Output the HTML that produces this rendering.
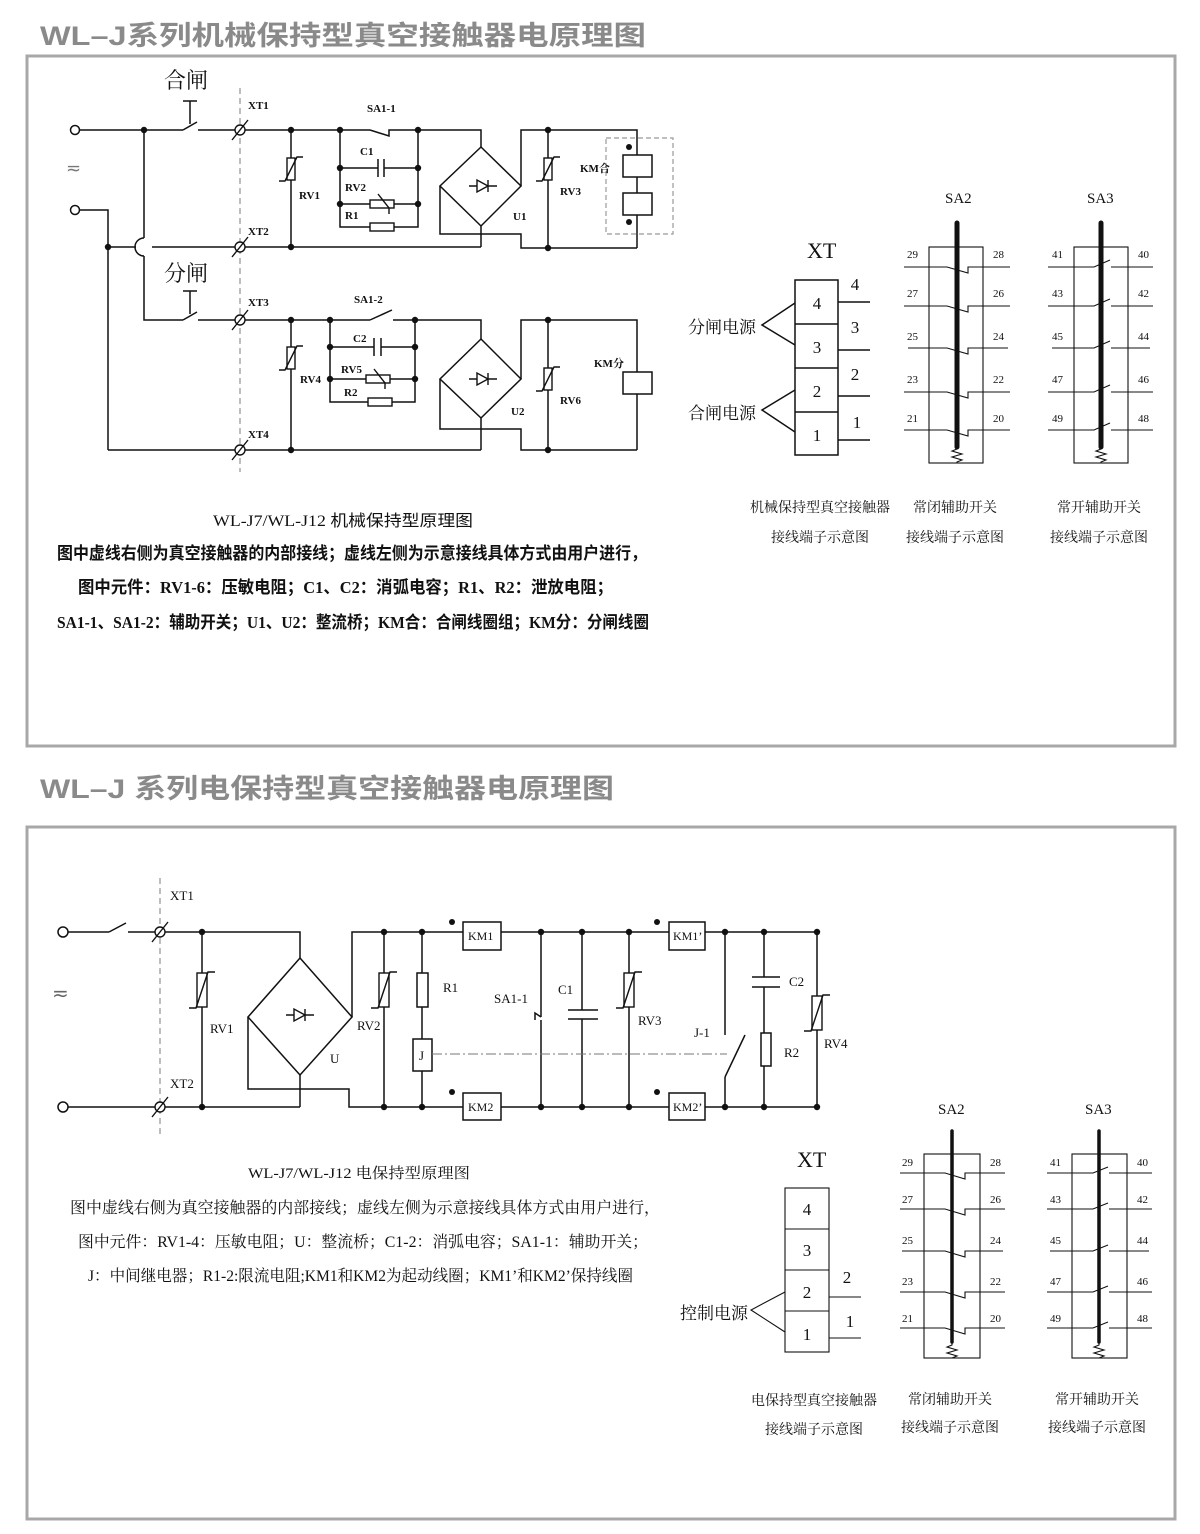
<!DOCTYPE html>
<html><head><meta charset="utf-8"><style>
html,body{margin:0;padding:0;background:#fff}
svg{display:block}
text{font-family:"Liberation Serif","Noto Serif CJK SC","Noto Sans CJK SC",serif;fill:#111}
.t{font-family:"Liberation Sans","Noto Sans CJK SC",sans-serif;font-weight:bold;fill:#8a8a8a;font-size:27px}
.s{font-size:11px;font-weight:bold}
.m{font-size:13px}
.b{font-size:17px;font-family:"Liberation Serif","Noto Sans CJK SC",serif}
.w{stroke:#111;stroke-width:1.5;fill:none}
.wt{stroke:#111;stroke-width:1.1;fill:none}
</style></head><body>
<svg width="1200" height="1534" viewBox="0 0 1200 1534" xmlns="http://www.w3.org/2000/svg">
<defs>
<g id="dot"><circle r="3.2" fill="#111"/></g>
<g id="xtc"><circle r="5" fill="#fff" stroke="#111" stroke-width="1.4"/><line x1="-8" y1="10" x2="8" y2="-10" stroke="#111" stroke-width="1.4"/></g>
<g id="rvv"><rect x="-4" y="-11" width="8" height="22" fill="#fff" stroke="#111" stroke-width="1.4"/><polyline points="-12,12 -6,12 6,-12 12,-12" fill="none" stroke="#111" stroke-width="1.4"/></g>
<g id="rvv2"><rect x="-5" y="-17" width="10" height="34" fill="#fff" stroke="#111" stroke-width="1.4"/><polyline points="-13,18 -6,18 6,-18 13,-18" fill="none" stroke="#111" stroke-width="1.4"/></g>
<g id="rvh"><rect x="-12" y="-4" width="24" height="8" fill="#fff" stroke="#111" stroke-width="1.4"/><polyline points="-4,-10 7,4 7,10" fill="none" stroke="#111" stroke-width="1.4"/></g>
<g id="rh"><rect x="-12" y="-4" width="24" height="8" fill="#fff" stroke="#111" stroke-width="1.4"/></g>
<g id="diode"><line x1="-14" y1="0" x2="14" y2="0" stroke="#111" stroke-width="1.4"/><polygon points="-6,-6 -6,6 5,0" fill="#fff" stroke="#111" stroke-width="1.4"/><line x1="5" y1="-6" x2="5" y2="6" stroke="#111" stroke-width="1.4"/></g>
</defs>

<!-- titles and frames -->
<text class="t" x="40" y="45" textLength="606" lengthAdjust="spacingAndGlyphs">WL–J系列机械保持型真空接触器电原理图</text>
<rect x="27" y="56" width="1148" height="690" fill="none" stroke="#a8a8a8" stroke-width="3"/>
<text class="t" x="40" y="798" textLength="574" lengthAdjust="spacingAndGlyphs">WL–J 系列电保持型真空接触器电原理图</text>
<rect x="27" y="827" width="1148" height="692" fill="none" stroke="#a8a8a8" stroke-width="3"/>

<!-- ============ TOP CIRCUIT ============ -->
<g class="w">
<circle cx="75" cy="130" r="4.5" fill="#fff"/>
<circle cx="75" cy="210" r="4.5" fill="#fff"/>
<line x1="80" y1="130" x2="183" y2="130"/>
<line x1="183" y1="130" x2="197" y2="122"/>
<line x1="198" y1="130" x2="370" y2="130"/>
<line x1="190" y1="101" x2="190" y2="124"/><line x1="183" y1="101" x2="197" y2="101"/>
<!-- SA1-1 -->
<polyline points="370,130 389,136 389,130 481,130 481,147"/>
<!-- bridge U1 -->
<polygon points="481,147 521,186 481,226 440,186"/>
<polyline points="440,186 440,234 521,234 521,248 637,248"/>
<polyline points="521,186 521,130 637,130 637,248"/>
<line x1="548" y1="130" x2="548" y2="248"/>
<polyline points="80,210 108,210 108,450"/>
<line x1="108" y1="247" x2="136" y2="247"/>
<line x1="152" y1="247" x2="481" y2="247"/>
<line x1="481" y1="226" x2="481" y2="247"/>
<!-- left vertical with jump -->
<line x1="144" y1="130" x2="144" y2="238"/>
<path d="M144,238 A9,9 0 0 0 144,256"/>
<polyline points="144,256 144,320 183,320"/>
<line x1="183" y1="320" x2="197" y2="312"/>
<line x1="190" y1="291" x2="190" y2="314"/><line x1="183" y1="291" x2="197" y2="291"/>
<line x1="198" y1="320" x2="370" y2="320"/>
<!-- SA1-2 -->
<line x1="370" y1="320" x2="392" y2="310"/>
<polyline points="393,320 481,320 481,339"/>
<polygon points="481,339 521,379 481,418 440,379"/>
<polyline points="440,379 440,429 521,429 521,450 637,450"/>
<polyline points="521,379 521,320 637,320 637,450"/>
<line x1="548" y1="320" x2="548" y2="450"/>
<line x1="108" y1="450" x2="481" y2="450"/>
<line x1="481" y1="418" x2="481" y2="450"/>
<!-- verticals RV1 / RV4 -->
<line x1="291" y1="130" x2="291" y2="247"/>
<line x1="291" y1="320" x2="291" y2="450"/>
<!-- C1/RV2/R1 ladder -->
<polyline points="340,130 340,227 418,227 418,130"/>
<line x1="340" y1="168" x2="378" y2="168"/><line x1="384" y1="168" x2="418" y2="168"/>
<line x1="378" y1="159" x2="378" y2="177"/><line x1="384" y1="159" x2="384" y2="177"/>
<line x1="340" y1="204" x2="418" y2="204"/>
<!-- C2/RV5/R2 ladder -->
<polyline points="330,320 330,402 415,402 415,320"/>
<line x1="330" y1="347" x2="374" y2="347"/><line x1="381" y1="347" x2="415" y2="347"/>
<line x1="374" y1="338" x2="374" y2="356"/><line x1="381" y1="338" x2="381" y2="356"/>
<line x1="330" y1="379" x2="415" y2="379"/>
<!-- KM合 -->
<rect x="606" y="138" width="67" height="96" stroke="#999" stroke-dasharray="5,3" stroke-width="1.2"/>
<rect x="623" y="155" width="29" height="22" fill="#fff"/>
<rect x="623" y="193" width="29" height="22" fill="#fff"/>
<rect x="623" y="372" width="29" height="22" fill="#fff"/>
</g>
<line x1="240" y1="88" x2="240" y2="472" stroke="#888" stroke-width="1.1" stroke-dasharray="6,4"/>
<use href="#xtc" x="240" y="130"/><use href="#xtc" x="240" y="247"/><use href="#xtc" x="240" y="320"/><use href="#xtc" x="240" y="450"/>
<use href="#rvv" x="291" y="169"/><use href="#rvv" x="548" y="169"/>
<use href="#rvv" x="291" y="358"/><use href="#rvv" x="548" y="379"/>
<use href="#rvh" x="382" y="204"/><use href="#rh" x="382" y="227"/>
<use href="#rvh" x="378" y="379"/><use href="#rh" x="380" y="402"/>
<use href="#diode" x="483" y="186"/><use href="#diode" x="483" y="379"/>
<circle cx="629" cy="147" r="3" fill="#111"/><circle cx="629" cy="222" r="3" fill="#111"/>
<g>
<use href="#dot" x="144" y="130"/><use href="#dot" x="291" y="130"/><use href="#dot" x="340" y="130"/><use href="#dot" x="418" y="130"/>
<use href="#dot" x="340" y="168"/><use href="#dot" x="418" y="168"/><use href="#dot" x="340" y="204"/><use href="#dot" x="418" y="204"/>
<use href="#dot" x="548" y="130"/><use href="#dot" x="548" y="248"/><use href="#dot" x="291" y="247"/><use href="#dot" x="108" y="247"/>
<use href="#dot" x="291" y="320"/><use href="#dot" x="330" y="320"/><use href="#dot" x="415" y="320"/>
<use href="#dot" x="330" y="347"/><use href="#dot" x="415" y="347"/><use href="#dot" x="330" y="379"/><use href="#dot" x="415" y="379"/>
<use href="#dot" x="548" y="320"/><use href="#dot" x="548" y="450"/><use href="#dot" x="291" y="450"/>
</g>
<text x="164" y="88" style="font-size:22px">合闸</text>
<text x="164" y="281" style="font-size:22px">分闸</text>
<text x="66" y="174" style="font-size:18px;fill:#777">≂</text>
<text class="s" x="248" y="109">XT1</text><text class="s" x="248" y="235">XT2</text>
<text class="s" x="248" y="306">XT3</text><text class="s" x="248" y="438">XT4</text>
<text class="s" x="367" y="112">SA1-1</text><text class="s" x="354" y="303">SA1-2</text>
<text class="s" x="360" y="155">C1</text><text class="s" x="345" y="191">RV2</text><text class="s" x="345" y="219">R1</text>
<text class="s" x="299" y="199">RV1</text><text class="s" x="560" y="195">RV3</text><text class="s" x="513" y="220">U1</text>
<text class="s" x="580" y="172">KM合</text>
<text class="s" x="353" y="342">C2</text><text class="s" x="341" y="373">RV5</text><text class="s" x="344" y="396">R2</text>
<text class="s" x="300" y="383">RV4</text><text class="s" x="560" y="404">RV6</text><text class="s" x="511" y="415">U2</text>
<text class="s" x="594" y="367">KM分</text>

<text class="b" x="213" y="526" textLength="260" lengthAdjust="spacingAndGlyphs" style="font-size:16px">WL-J7/WL-J12 机械保持型原理图</text>
<text class="b" x="57" y="559" textLength="590" lengthAdjust="spacingAndGlyphs" style="font-weight:bold">图中虚线右侧为真空接触器的内部接线；虚线左侧为示意接线具体方式由用户进行，</text>
<text class="b" x="78" y="593" textLength="535" lengthAdjust="spacingAndGlyphs" style="font-weight:bold">图中元件：RV1-6：压敏电阻；C1、C2：消弧电容；R1、R2：泄放电阻；</text>
<text class="b" x="57" y="628" textLength="592" lengthAdjust="spacingAndGlyphs" style="font-weight:bold">SA1-1、SA1-2：辅助开关；U1、U2：整流桥；KM合：合闸线圈组；KM分：分闸线圈</text>

<!-- top right XT -->
<text x="807" y="258" style="font-size:22px">XT</text>
<g class="w">
<rect x="795" y="280" width="43" height="175" fill="#fff"/>
<line x1="795" y1="324" x2="838" y2="324"/><line x1="795" y1="368" x2="838" y2="368"/><line x1="795" y1="412" x2="838" y2="412"/>
<line x1="838" y1="302" x2="870" y2="302"/><line x1="838" y1="350" x2="870" y2="350"/><line x1="838" y1="396" x2="870" y2="396"/><line x1="838" y1="440" x2="870" y2="440"/>
<polyline points="795,303 762,325 795,345"/><polyline points="795,390 762,410 795,432"/>
</g>
<g style="font-size:17px" text-anchor="middle">
<text x="817" y="309">4</text><text x="817" y="353">3</text><text x="817" y="397">2</text><text x="817" y="441">1</text>
<text x="855" y="290">4</text><text x="855" y="333">3</text><text x="855" y="380">2</text><text x="857" y="428">1</text>
</g>
<text x="688" y="333" style="font-size:17px">分闸电源</text>
<text x="688" y="419" style="font-size:17px">合闸电源</text>

<!-- SA2 top -->
<text x="945" y="203" style="font-size:15px">SA2</text>
<rect x="929" y="247" width="54" height="216" class="wt"/>
<line x1="957" y1="223" x2="957" y2="447" stroke="#111" stroke-width="5" stroke-linecap="round"/>
<polyline class="wt" points="957,446 957,449 952,451 962,454 952,457 962,460 957,462 957,463"/>
<g class="wt">
<polyline points="904,267 947,267 968,273 968,267 1010,267"/>
<polyline points="904,306 947,306 968,312 968,306 1010,306"/>
<polyline points="908,348 947,348 968,354 968,348 1008,348"/>
<polyline points="904,392 947,392 968,398 968,392 1010,392"/>
<polyline points="904,430 947,430 968,436 968,430 1010,430"/>
</g>
<g class="s" style="font-weight:normal;font-size:11px">
<text x="907" y="258">29</text><text x="993" y="258">28</text>
<text x="907" y="297">27</text><text x="993" y="297">26</text>
<text x="907" y="340">25</text><text x="993" y="340">24</text>
<text x="907" y="383">23</text><text x="993" y="383">22</text>
<text x="907" y="422">21</text><text x="993" y="422">20</text>
</g>
<!-- SA3 top -->
<text x="1087" y="203" style="font-size:15px">SA3</text>
<rect x="1074" y="247" width="54" height="216" class="wt"/>
<line x1="1101" y1="223" x2="1101" y2="447" stroke="#111" stroke-width="5" stroke-linecap="round"/>
<polyline class="wt" points="1101,446 1101,449 1096,451 1106,454 1096,457 1106,460 1101,462 1101,463"/>
<g class="wt">
<polyline points="1048,267 1094,267 1110,260"/><line x1="1111" y1="267" x2="1153" y2="267"/>
<polyline points="1048,306 1094,306 1110,299"/><line x1="1111" y1="306" x2="1153" y2="306"/>
<polyline points="1052,348 1094,348 1110,341"/><line x1="1111" y1="348" x2="1150" y2="348"/>
<polyline points="1048,392 1094,392 1110,385"/><line x1="1111" y1="392" x2="1153" y2="392"/>
<polyline points="1048,430 1094,430 1110,423"/><line x1="1111" y1="430" x2="1153" y2="430"/>
</g>
<g style="font-size:11px">
<text x="1052" y="258">41</text><text x="1138" y="258">40</text>
<text x="1052" y="297">43</text><text x="1138" y="297">42</text>
<text x="1052" y="340">45</text><text x="1138" y="340">44</text>
<text x="1052" y="383">47</text><text x="1138" y="383">46</text>
<text x="1052" y="422">49</text><text x="1138" y="422">48</text>
</g>
<g style="font-size:14px" text-anchor="middle">
<text x="820" y="512">机械保持型真空接触器</text><text x="820" y="542">接线端子示意图</text>
<text x="955" y="512">常闭辅助开关</text><text x="955" y="542">接线端子示意图</text>
<text x="1099" y="512">常开辅助开关</text><text x="1099" y="542">接线端子示意图</text>
</g>

<!-- ============ BOTTOM CIRCUIT ============ -->
<g class="w">
<circle cx="63" cy="932" r="5" fill="#fff"/>
<circle cx="63" cy="1107" r="5" fill="#fff"/>
<line x1="68" y1="932" x2="109" y2="932"/><line x1="109" y1="932" x2="126" y2="923"/>
<polyline points="128,932 300,932 300,958"/>
<polygon points="300,958 352,1017 300,1075 248,1017"/>
<polyline points="248,1017 248,1089 349,1089 349,1107 817,1107"/>
<polyline points="352,1017 352,932 817,932"/>
<line x1="68" y1="1107" x2="300" y2="1107"/><line x1="300" y1="1075" x2="300" y2="1107"/>
<line x1="202" y1="932" x2="202" y2="1107"/>
<line x1="384" y1="932" x2="384" y2="1107"/>
<line x1="422" y1="932" x2="422" y2="1107"/>
<line x1="541" y1="932" x2="541" y2="1017"/>
<polyline points="541,1017 535,1013 535,1020"/>
<line x1="541" y1="1020" x2="541" y2="1107"/>
<line x1="582" y1="932" x2="582" y2="1010"/><line x1="582" y1="1019" x2="582" y2="1107"/>
<line x1="568" y1="1010" x2="598" y2="1010"/><line x1="568" y1="1019" x2="598" y2="1019"/>
<line x1="629" y1="932" x2="629" y2="1107"/>
<line x1="725" y1="932" x2="725" y2="1035"/>
<line x1="725" y1="1077" x2="745" y2="1035"/>
<line x1="725" y1="1077" x2="725" y2="1107"/>
<line x1="764" y1="932" x2="764" y2="977"/><line x1="764" y1="987" x2="764" y2="1107"/>
<line x1="752" y1="977" x2="780" y2="977"/><line x1="752" y1="987" x2="780" y2="987"/>
<line x1="817" y1="932" x2="817" y2="1107"/>
<rect x="463" y="922" width="38" height="28" fill="#fff"/>
<rect x="463" y="1093" width="38" height="27" fill="#fff"/>
<rect x="669" y="922" width="36" height="28" fill="#fff"/>
<rect x="669" y="1093" width="36" height="27" fill="#fff"/>
<rect x="417" y="973" width="11" height="34" fill="#fff"/>
<rect x="413" y="1039" width="19" height="32" fill="#fff"/>
<rect x="761" y="1033" width="10" height="33" fill="#fff"/>
</g>
<line x1="432" y1="1054" x2="727" y2="1054" stroke="#777" stroke-width="1" stroke-dasharray="10,3,2,3"/>
<line x1="160" y1="878" x2="160" y2="1135" stroke="#888" stroke-width="1.1" stroke-dasharray="6,4"/>
<use href="#xtc" x="160" y="932"/><use href="#xtc" x="160" y="1107"/>
<use href="#rvv2" x="202" y="990"/><use href="#rvv2" x="384" y="990"/><use href="#rvv2" x="629" y="990"/><use href="#rvv2" x="817" y="1013"/>
<use href="#diode" x="300" y="1015"/>
<circle cx="452" cy="922" r="3" fill="#111"/><circle cx="452" cy="1092" r="3" fill="#111"/>
<circle cx="657" cy="922" r="3" fill="#111"/><circle cx="657" cy="1092" r="3" fill="#111"/>
<g>
<use href="#dot" x="202" y="932"/><use href="#dot" x="384" y="932"/><use href="#dot" x="422" y="932"/><use href="#dot" x="541" y="932"/><use href="#dot" x="582" y="932"/><use href="#dot" x="629" y="932"/><use href="#dot" x="725" y="932"/><use href="#dot" x="764" y="932"/><use href="#dot" x="817" y="932"/>
<use href="#dot" x="202" y="1107"/><use href="#dot" x="384" y="1107"/><use href="#dot" x="422" y="1107"/><use href="#dot" x="541" y="1107"/><use href="#dot" x="582" y="1107"/><use href="#dot" x="629" y="1107"/><use href="#dot" x="725" y="1107"/><use href="#dot" x="764" y="1107"/><use href="#dot" x="817" y="1107"/>
</g>
<text x="52" y="1000" style="font-size:20px;fill:#666">≂</text>
<g class="m">
<text x="170" y="900">XT1</text><text x="170" y="1088">XT2</text>
<text x="210" y="1033">RV1</text><text x="357" y="1030">RV2</text><text x="330" y="1063">U</text>
<text x="443" y="992">R1</text><text x="419" y="1060">J</text>
<text x="468" y="940" style="font-size:12px">KM1</text><text x="468" y="1111" style="font-size:12px">KM2</text>
<text x="673" y="940" style="font-size:12px">KM1’</text><text x="673" y="1111" style="font-size:12px">KM2’</text>
<text x="494" y="1003">SA1-1</text><text x="558" y="994">C1</text><text x="638" y="1025">RV3</text>
<text x="694" y="1037">J-1</text><text x="789" y="986">C2</text><text x="784" y="1057">R2</text><text x="824" y="1048">RV4</text>
</g>
<text x="248" y="1178" textLength="222" lengthAdjust="spacingAndGlyphs" style="font-size:15px">WL-J7/WL-J12 电保持型原理图</text>
<text x="70" y="1213" textLength="590" lengthAdjust="spacingAndGlyphs" style="font-size:16px">图中虚线右侧为真空接触器的内部接线；虚线左侧为示意接线具体方式由用户进行，</text>
<text x="78" y="1247" textLength="570" lengthAdjust="spacingAndGlyphs" style="font-size:16px">图中元件：RV1-4：压敏电阻；U：整流桥；C1-2：消弧电容；SA1-1：辅助开关；</text>
<text x="88" y="1281" textLength="545" lengthAdjust="spacingAndGlyphs" style="font-size:16px">J：中间继电器；R1-2:限流电阻;KM1和KM2为起动线圈；KM1’和KM2’保持线圈</text>

<!-- bottom right XT -->
<text x="797" y="1167" style="font-size:22px">XT</text>
<g class="wt">
<rect x="785" y="1188" width="44" height="164" fill="#fff"/>
<line x1="785" y1="1229" x2="829" y2="1229"/><line x1="785" y1="1270" x2="829" y2="1270"/><line x1="785" y1="1311" x2="829" y2="1311"/>
<line x1="829" y1="1297" x2="861" y2="1297"/><line x1="829" y1="1338" x2="861" y2="1338"/>
<polyline points="785,1292 751,1310 785,1332"/>
</g>
<g style="font-size:17px" text-anchor="middle">
<text x="807" y="1215">4</text><text x="807" y="1256">3</text><text x="807" y="1298">2</text><text x="807" y="1340">1</text>
<text x="847" y="1283">2</text><text x="850" y="1327">1</text>
</g>
<text x="680" y="1319" style="font-size:17px">控制电源</text>

<text x="938" y="1114" style="font-size:15px">SA2</text>
<rect x="924" y="1154" width="56" height="204" class="wt"/>
<line x1="952" y1="1131" x2="952" y2="1342" stroke="#111" stroke-width="3.5" stroke-linecap="round"/>
<polyline class="wt" points="952,1342 952,1345 947,1347 957,1350 947,1353 957,1356 952,1358"/>
<g class="wt">
<polyline points="900,1173 945,1173 965,1179 965,1173 1005,1173"/>
<polyline points="900,1209 945,1209 965,1215 965,1209 1005,1209"/>
<polyline points="902,1251 945,1251 965,1257 965,1251 1003,1251"/>
<polyline points="900,1292 945,1292 965,1298 965,1292 1005,1292"/>
<polyline points="900,1328 945,1328 965,1334 965,1328 1005,1328"/>
</g>
<g style="font-size:11px">
<text x="902" y="1166">29</text><text x="990" y="1166">28</text>
<text x="902" y="1203">27</text><text x="990" y="1203">26</text>
<text x="902" y="1244">25</text><text x="990" y="1244">24</text>
<text x="902" y="1285">23</text><text x="990" y="1285">22</text>
<text x="902" y="1322">21</text><text x="990" y="1322">20</text>
</g>
<text x="1085" y="1114" style="font-size:15px">SA3</text>
<rect x="1072" y="1154" width="55" height="204" class="wt"/>
<line x1="1099" y1="1131" x2="1099" y2="1342" stroke="#111" stroke-width="3.5" stroke-linecap="round"/>
<polyline class="wt" points="1099,1342 1099,1345 1094,1347 1104,1350 1094,1353 1104,1356 1099,1358"/>
<g class="wt">
<polyline points="1047,1173 1093,1173 1108,1167"/><line x1="1109" y1="1173" x2="1152" y2="1173"/>
<polyline points="1047,1209 1093,1209 1108,1203"/><line x1="1109" y1="1209" x2="1152" y2="1209"/>
<polyline points="1050,1251 1093,1251 1108,1245"/><line x1="1109" y1="1251" x2="1149" y2="1251"/>
<polyline points="1047,1292 1093,1292 1108,1286"/><line x1="1109" y1="1292" x2="1152" y2="1292"/>
<polyline points="1047,1328 1093,1328 1108,1322"/><line x1="1109" y1="1328" x2="1152" y2="1328"/>
</g>
<g style="font-size:11px">
<text x="1050" y="1166">41</text><text x="1137" y="1166">40</text>
<text x="1050" y="1203">43</text><text x="1137" y="1203">42</text>
<text x="1050" y="1244">45</text><text x="1137" y="1244">44</text>
<text x="1050" y="1285">47</text><text x="1137" y="1285">46</text>
<text x="1050" y="1322">49</text><text x="1137" y="1322">48</text>
</g>
<g style="font-size:14px" text-anchor="middle">
<text x="814" y="1405">电保持型真空接触器</text><text x="814" y="1434">接线端子示意图</text>
<text x="950" y="1404">常闭辅助开关</text><text x="950" y="1432">接线端子示意图</text>
<text x="1097" y="1404">常开辅助开关</text><text x="1097" y="1432">接线端子示意图</text>
</g>
</svg>
</body></html>
